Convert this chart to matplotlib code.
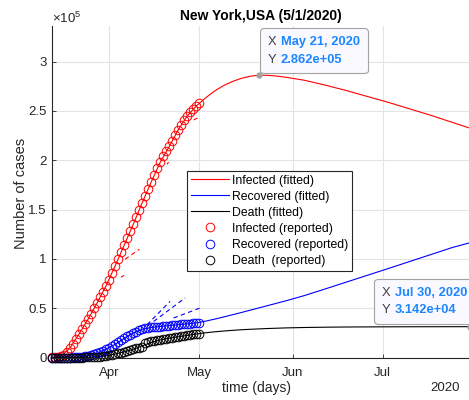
import numpy as np
import pandas as pd
import matplotlib
matplotlib.use("Agg")
import matplotlib.pyplot as plt
import matplotlib.dates as mdates
from matplotlib.ticker import FuncFormatter
from matplotlib.offsetbox import TextArea, HPacker, VPacker, AnnotationBbox

plt.rcParams["font.family"] = ["Liberation Sans", "DejaVu Sans"]
plt.rcParams["mathtext.default"] = "regular"

# daily reported counts, 13 Mar - 1 May 2020
report_dates = pd.date_range("2020-03-13", "2020-05-01", freq="D")
infected_rep = [300, 500, 900, 1500, 3000, 6000, 10000, 14000, 19000, 24000,
                29000, 34000, 39000, 44500, 50000, 55500, 61000, 67000, 73000, 79000,
                86000, 93000, 100000, 107000, 114000, 121000, 128000, 135000, 143000, 150000,
                157000, 164000, 171000, 178000, 185000, 192000, 198000, 204000, 209000, 214000,
                220000, 226000, 231000, 236000, 241000, 245000, 249000, 252000, 255000, 258000]
recovered_rep = [0, 0, 0, 0, 0, 100, 200, 300, 500, 700,
                 1000, 1400, 1900, 2600, 3400, 4400, 5600, 7000, 8500, 10100,
                 11800, 13600, 15500, 17500, 19500, 21500, 23300, 25000, 26500, 27800,
                 28800, 29600, 30200, 30600, 31000, 31300, 31600, 31900, 32200, 32500,
                 32800, 33100, 33400, 33700, 34000, 34300, 34600, 34900, 35200, 35500]
death_rep = [0, 0, 0, 0, 0, 0, 0, 50, 100, 150,
             200, 300, 400, 500, 700, 900, 1200, 1500, 1900, 2400,
             3000, 3700, 4400, 5100, 5900, 6700, 7600, 8500, 9400, 10300,
             11200, 14500, 16000, 16600, 17100, 17600, 18100, 18600, 19100, 19600,
             20100, 20600, 21100, 21600, 22100, 22600, 23100, 23600, 24000, 24400]

# model curves
fit_dates = pd.to_datetime([
    "2020-03-13", "2020-03-16", "2020-03-19", "2020-03-22", "2020-03-25", "2020-03-28",
    "2020-03-31", "2020-04-03", "2020-04-06", "2020-04-09", "2020-04-12", "2020-04-15",
    "2020-04-18", "2020-04-21", "2020-04-24", "2020-04-27", "2020-04-30", "2020-05-03",
    "2020-05-06", "2020-05-09", "2020-05-12", "2020-05-15", "2020-05-18", "2020-05-21",
    "2020-05-24", "2020-05-27", "2020-05-30", "2020-06-05", "2020-06-12", "2020-06-19",
    "2020-06-26", "2020-07-03", "2020-07-10", "2020-07-17", "2020-07-24", "2020-07-30"])
infected_fit = [300, 1500, 10000, 24000, 39000, 55500,
                73000, 93000, 114000, 135000, 157000, 178000,
                198000, 214000, 231000, 245000, 255000, 263000,
                270000, 275500, 279800, 283000, 285200, 286200,
                286000, 285200, 284000, 281000, 276000, 270500,
                264500, 258500, 252000, 245500, 238500, 232500]
recovered_fit = [0, 0, 200, 700, 1900, 4400,
                 8500, 13600, 19500, 25000, 28800, 30600,
                 31600, 32500, 33400, 34300, 35200, 37000,
                 39000, 41200, 43500, 45800, 48200, 50600,
                 53000, 55400, 57800, 63000, 69800, 76700,
                 83600, 90500, 97500, 104500, 111500, 116500]
death_fit = [0, 0, 0, 100, 400, 900,
             1900, 3700, 5900, 8500, 12000, 15500,
             18000, 19800, 21200, 22600, 24000, 25200,
             26200, 27000, 27700, 28300, 28800, 29200,
             29600, 29900, 30200, 30600, 30900, 31100,
             31200, 31280, 31340, 31380, 31400, 31420]

# short dashed trend pieces
infected_dash_x = [["2020-04-04 22:00", "2020-04-06 00:00"],
                   ["2020-04-06 07:00", "2020-04-11 02:00"],
                   ["2020-04-20 05:00", "2020-04-20 19:00"],
                   ["2020-04-29 02:00", "2020-04-30 19:00"]]
infected_dash_y = [[81600, 83300], [99700, 109900], [196000, 198000], [240800, 243500]]
recovered_dash_x = [["2020-04-13 14:00", "2020-04-21 07:00"],
                    ["2020-04-15 19:00", "2020-04-26 07:00"],
                    ["2020-04-22 10:00", "2020-05-01 07:00"]]
recovered_dash_y = [[33400, 57100], [36700, 60600], [40200, 50400]]

fig = plt.figure(figsize=(4.69, 4.0), dpi=100)
ax = fig.add_axes([52 / 469, 42.3 / 400, 418 / 469, 331.7 / 400])

ax.plot(fit_dates, infected_fit, color="red", lw=0.8, label="Infected (fitted)")
ax.plot(fit_dates, recovered_fit, color="blue", lw=0.8, label="Recovered (fitted)")
ax.plot(fit_dates, death_fit, color="black", lw=0.8, label="Death (fitted)")

for xs, ys in zip(infected_dash_x, infected_dash_y):
    ax.plot(pd.to_datetime(xs), ys, color="red", lw=0.8, dashes=(4, 3))
for xs, ys in zip(recovered_dash_x, recovered_dash_y):
    ax.plot(pd.to_datetime(xs), ys, color="blue", lw=0.8, dashes=(4, 3))

ax.plot(report_dates, infected_rep, "o", mfc="none", mec="red", ms=6.2, mew=0.7,
        clip_on=False, label="Infected (reported)")
ax.plot(report_dates, recovered_rep, "o", mfc="none", mec="blue", ms=6.2, mew=0.7,
        clip_on=False, label="Recovered (reported)")
ax.plot(report_dates, death_rep, "o", mfc="none", mec="black", ms=6.2, mew=0.7,
        clip_on=False, label="Death  (reported)")

ax.set_xlim(pd.Timestamp("2020-03-13"), pd.Timestamp("2020-07-30"))
ax.set_ylim(0, 3.36e5)
ax.set_yticks(np.arange(0, 3.01e5, 0.5e5))
ax.yaxis.set_major_formatter(FuncFormatter(lambda v, p: f"{v / 1e5:g}"))
ax.xaxis.set_major_locator(mdates.MonthLocator(bymonth=[4, 5, 6, 7]))
ax.xaxis.set_major_formatter(mdates.DateFormatter("%b"))

for side in ("top", "right"):
    ax.spines[side].set_visible(False)
for side in ("left", "bottom"):
    ax.spines[side].set_color("#262626")
    ax.spines[side].set_linewidth(0.8)
ax.tick_params(direction="in", length=3, width=0.6, colors="#262626", labelsize=9.5)
ax.tick_params(axis="x", pad=7)
ax.tick_params(axis="y", pad=4)
ax.grid(True, color="#e4e4e4", lw=0.8)
ax.set_axisbelow(True)

ax.set_title("New York,USA (5/1/2020)", fontsize=10, fontweight="bold", pad=4)
ax.set_xlabel("time (days)", fontsize=10, color="#262626")
ax.set_ylabel("Number of cases", fontsize=10.5, color="#262626")
ax.xaxis.set_label_coords(0.49, -0.07)
ax.yaxis.set_label_coords(-0.058, 0.495)
ax.text(0, 1.01, r"×10$^5$", transform=ax.transAxes, ha="left", va="baseline",
        fontsize=9.5, color="#262626")
ax.text(0.975, -0.09, "2020", transform=ax.transAxes, ha="right", va="center",
        fontsize=9.5, color="#262626")

leg = ax.legend(loc="upper left", bbox_to_anchor=(187 / 469, 1 - 171 / 400),
                bbox_transform=fig.transFigure, borderaxespad=0, fontsize=8.8,
                handlelength=3.1, handletextpad=0.3, labelspacing=0.33,
                borderpad=0.3, fancybox=False, framealpha=1)
leg.get_frame().set_edgecolor("#262626")
leg.get_frame().set_linewidth(0.8)


def datatip(x, y, align, offset):
    xtxt = f"{x:%b} {x.day}, {x.year}"
    ytxt = f"{y:.3e}"
    rows = []
    for key, val in (("X", xtxt), ("Y", ytxt)):
        rows.append(HPacker(children=[
            TextArea(key, textprops=dict(color="#404040", size=9.3)),
            TextArea(val, textprops=dict(color="#1c86ff", size=9.3, weight="bold"))],
            pad=0, sep=3, align="baseline"))
    content = VPacker(children=rows, pad=0, sep=4)
    ab = AnnotationBbox(content, (x, y), xybox=offset, xycoords="data",
                        boxcoords="offset points", box_alignment=align,
                        annotation_clip=False, zorder=7,
                        bboxprops=dict(boxstyle="round,pad=0.55,rounding_size=0.25",
                                       fc="#f9f9ff", ec="#a3a3a3", lw=0.8))
    ax.add_artist(ab)
    ax.plot([x], [y], "o", ms=3.5, color="#a0a0a0", clip_on=False, zorder=8)


peak = int(np.argmax(infected_fit))
datatip(fit_dates[peak], infected_fit[peak], (0, 0), (6.2, 6.9))
datatip(fit_dates[-1], death_fit[-1], (1, 0), (-2, 7.6))

fig.savefig("out.png", dpi=100)
